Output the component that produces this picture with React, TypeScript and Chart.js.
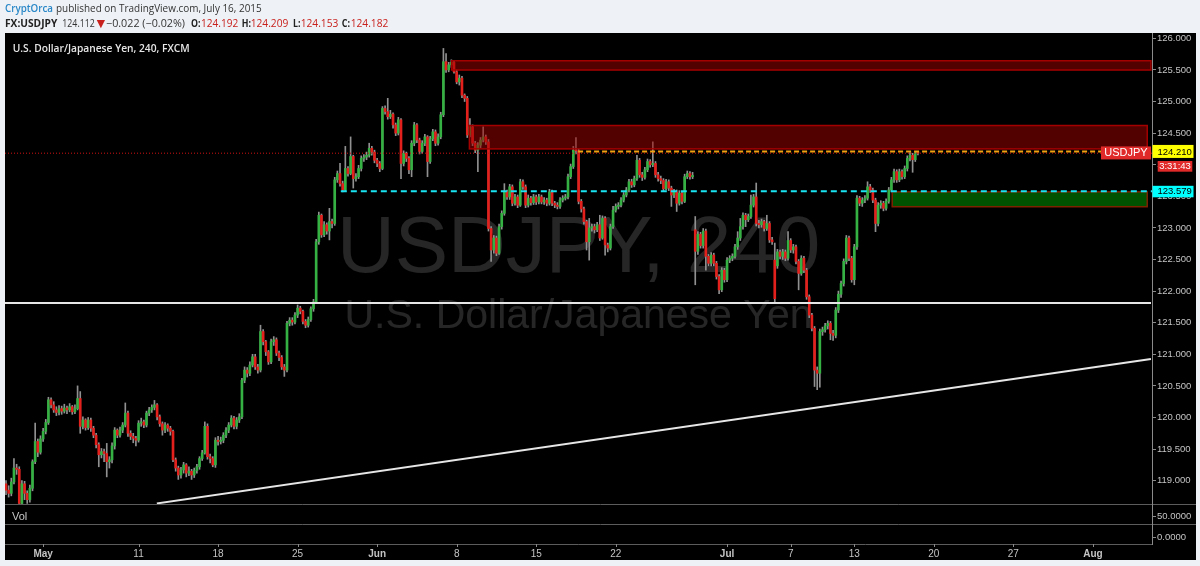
import React, { useEffect, useRef } from 'react';
import { Chart, registerables } from 'chart.js';

Chart.register(...registerables);

// ---------- DATA (4h candles, index 0 = Apr 30 2015) ----------
const closes = [
  118.85, 118.80, 118.98, 119.20, 119.18, 118.64, 118.95, 118.80, 118.70, 118.88,
  119.30, 119.62, 119.45, 119.66, 119.78, 119.92, 120.28, 120.20, 120.12, 120.08,
  120.14, 120.10, 120.15, 120.12, 120.17, 120.09, 120.14, 120.30, 119.86, 119.96,
  119.84, 119.96, 119.83, 119.72, 119.57, 119.41, 119.46, 119.43, 119.30, 119.33,
  119.55, 119.80, 119.72, 119.80, 119.88, 120.07, 119.75, 119.70, 119.67, 119.64,
  119.91, 119.93, 119.88, 120.07, 120.12, 120.16, 120.20, 120.01, 119.90, 119.80,
  119.88, 119.83, 119.78, 119.33, 119.20, 119.09, 119.17, 119.25, 119.12, 119.15,
  119.09, 119.16, 119.22, 119.35, 119.44, 119.86, 119.38, 119.35, 119.25, 119.64,
  119.62, 119.64, 119.72, 119.80, 119.88, 119.99, 119.86, 119.96, 120.01, 120.59,
  120.75, 120.70, 120.83, 120.96, 120.80, 120.75, 121.36, 121.20, 121.04, 120.88,
  121.20, 121.23, 121.02, 120.95, 120.80, 120.75, 121.49, 121.54, 121.51, 121.62,
  121.73, 121.68, 121.52, 121.46, 121.55, 121.72, 121.83, 122.78, 123.20, 122.89,
  123.05, 122.95, 123.10, 123.07, 123.76, 123.86, 123.70, 123.60, 123.94, 123.86,
  124.13, 123.78, 123.81, 123.94, 124.10, 124.12, 124.15, 124.26, 124.20, 124.07,
  124.02, 123.94, 124.89, 124.84, 124.76, 124.80, 124.63, 124.50, 124.71, 124.02,
  124.18, 124.10, 123.92, 124.34, 124.63, 124.39, 124.21, 124.34, 124.44, 124.05,
  124.41, 124.52, 124.34, 124.44, 124.79, 125.63, 125.50, 125.58, 125.62, 125.47,
  125.31, 125.37, 125.10, 125.05, 124.47, 124.60, 124.34, 124.23, 124.31, 124.39,
  124.44, 124.36, 122.99, 122.65, 122.84, 122.60, 123.02, 123.23, 123.57, 123.49,
  123.65, 123.39, 123.49, 123.36, 123.73, 123.65, 123.36, 123.47, 123.40, 123.49,
  123.41, 123.49, 123.41, 123.44, 123.39, 123.57, 123.39, 123.36, 123.34, 123.44,
  123.47, 123.49, 123.81, 123.97, 124.23, 124.22, 123.42, 123.30, 123.10, 122.78,
  123.00, 123.02, 122.97, 123.05, 122.84, 123.15, 122.73, 122.68, 123.02, 123.28,
  123.34, 123.36, 123.44, 123.52, 123.60, 123.73, 123.68, 123.78, 124.07, 123.84,
  123.80, 123.92, 124.05, 124.00, 124.02, 123.84, 123.78, 123.75, 123.62, 123.73,
  123.63, 123.52, 123.57, 123.39, 123.55, 123.42, 123.81, 123.86, 123.81, 123.83,
  122.63, 122.90, 122.72, 122.95, 122.55, 122.44, 122.57, 122.44, 122.23, 122.02,
  122.33, 122.18, 122.49, 122.52, 122.55, 122.70, 122.84, 123.02, 123.20, 123.13,
  123.18, 123.36, 123.49, 123.07, 123.05, 123.10, 122.99, 123.07, 122.81, 122.78,
  121.88, 122.62, 122.55, 122.62, 122.52, 122.80, 122.65, 122.70, 122.47, 122.28,
  122.52, 122.33, 121.91, 121.62, 121.41, 120.75, 120.70, 121.36, 121.39, 121.45,
  121.49, 121.33, 121.30, 121.70, 121.95, 122.12, 122.47, 122.84, 122.52, 122.18,
  122.70, 123.47, 123.39, 123.44, 123.47, 123.65, 123.60, 123.44, 123.07, 123.36,
  123.39, 123.31, 123.42, 123.60, 123.76, 123.89, 123.76, 123.89, 123.81, 123.94,
  124.10, 124.15, 124.08, 124.19, 124.182,
];

const highs = [
  119.00, 118.92, 119.04, 119.35, 119.26, 119.22, 119.00, 118.99, 118.84, 118.93,
  119.33, 119.91, 119.66, 119.71, 119.83, 119.97, 120.32, 120.31, 120.25, 120.17,
  120.19, 120.18, 120.21, 120.18, 120.22, 120.19, 120.20, 120.50, 120.41, 120.01,
  119.98, 120.00, 119.99, 119.86, 119.75, 119.60, 119.51, 119.50, 119.59, 119.38,
  119.60, 119.84, 119.82, 119.85, 119.92, 120.23, 120.10, 119.79, 119.75, 119.70,
  119.95, 119.99, 119.96, 120.10, 120.16, 120.20, 120.27, 120.22, 120.04, 119.93,
  119.92, 119.90, 119.86, 119.80, 119.36, 119.23, 119.21, 119.29, 119.27, 119.22,
  119.18, 119.20, 119.26, 119.38, 119.48, 119.93, 119.90, 119.42, 119.38, 119.68,
  119.70, 119.69, 119.76, 119.84, 119.92, 120.03, 120.02, 120.00, 120.06, 120.62,
  120.80, 120.79, 120.88, 121.00, 121.00, 120.84, 121.46, 121.39, 121.22, 121.06,
  121.24, 121.28, 121.26, 121.05, 120.98, 120.84, 121.52, 121.58, 121.58, 121.66,
  121.78, 121.76, 121.70, 121.55, 121.59, 121.75, 121.87, 122.82, 123.25, 123.22,
  123.10, 123.08, 123.31, 123.14, 123.80, 123.90, 124.02, 123.74, 124.29, 123.97,
  124.44, 124.15, 123.86, 123.99, 124.14, 124.16, 124.20, 124.34, 124.29, 124.23,
  124.10, 124.05, 124.92, 124.93, 125.05, 124.86, 124.82, 124.66, 124.75, 124.73,
  124.22, 124.20, 124.13, 124.38, 124.67, 124.65, 124.42, 124.38, 124.48, 124.46,
  124.45, 124.56, 124.55, 124.49, 124.83, 125.84, 125.76, 125.62, 125.66, 125.64,
  125.50, 125.42, 125.40, 125.12, 125.08, 124.73, 124.63, 124.37, 124.35, 124.43,
  124.60, 124.47, 124.40, 123.02, 122.88, 122.87, 123.06, 123.27, 123.70, 123.60,
  123.69, 123.68, 123.53, 123.52, 123.77, 123.76, 123.68, 123.52, 123.50, 123.53,
  123.52, 123.53, 123.52, 123.48, 123.47, 123.61, 123.60, 123.42, 123.40, 123.48,
  123.51, 123.53, 123.85, 124.01, 124.29, 124.43, 124.25, 123.45, 123.33, 123.12,
  123.15, 123.06, 123.06, 123.09, 123.20, 123.19, 123.18, 122.76, 123.06, 123.34,
  123.38, 123.40, 123.48, 123.56, 123.64, 123.77, 123.77, 123.82, 124.15, 124.10,
  123.88, 123.96, 124.09, 124.08, 124.36, 124.05, 123.88, 123.82, 123.78, 123.77,
  123.76, 123.66, 123.61, 123.60, 123.59, 123.58, 123.85, 123.90, 123.89, 123.88,
  123.18, 122.94, 122.93, 122.99, 122.98, 122.58, 122.61, 122.60, 122.47, 122.26,
  122.37, 122.36, 122.53, 122.56, 122.59, 122.74, 122.94, 123.15, 123.24, 123.23,
  123.22, 123.52, 123.53, 123.71, 123.12, 123.14, 123.12, 123.20, 123.10, 122.85,
  122.76, 122.66, 122.65, 122.66, 122.65, 122.94, 122.83, 122.74, 122.73, 122.50,
  122.56, 122.55, 122.36, 121.94, 121.65, 121.44, 120.80, 121.40, 121.43, 121.49,
  121.53, 121.52, 121.38, 121.74, 122.00, 122.16, 122.51, 122.88, 122.87, 122.55,
  122.74, 123.51, 123.50, 123.48, 123.51, 123.73, 123.69, 123.63, 123.47, 123.40,
  123.43, 123.42, 123.46, 123.64, 123.80, 123.93, 123.92, 123.93, 123.92, 123.98,
  124.14, 124.19, 124.18, 124.20, 124.209,
];

const lows = [
  118.78, 118.74, 118.76, 118.95, 119.10, 118.60, 118.62, 118.70, 118.64, 118.66,
  118.84, 119.27, 119.38, 119.42, 119.62, 119.74, 119.89, 120.15, 120.08, 120.03,
  120.04, 120.05, 120.07, 120.06, 120.09, 120.05, 120.06, 120.12, 119.75, 119.82,
  119.80, 119.81, 119.78, 119.68, 119.52, 119.22, 119.36, 119.30, 119.06, 119.20,
  119.28, 119.50, 119.68, 119.69, 119.76, 119.85, 119.70, 119.65, 119.60, 119.55,
  119.61, 119.86, 119.84, 119.85, 120.03, 120.08, 120.12, 119.96, 119.86, 119.72,
  119.76, 119.78, 119.72, 119.30, 119.15, 119.02, 119.04, 119.12, 119.06, 119.08,
  119.02, 119.05, 119.12, 119.18, 119.32, 119.42, 119.34, 119.28, 119.22, 119.21,
  119.56, 119.58, 119.60, 119.68, 119.76, 119.85, 119.82, 119.82, 119.92, 119.98,
  120.55, 120.64, 120.66, 120.80, 120.76, 120.70, 120.72, 121.15, 120.98, 120.84,
  120.85, 121.14, 120.98, 120.90, 120.76, 120.65, 120.72, 121.45, 121.46, 121.48,
  121.58, 121.64, 121.48, 121.42, 121.43, 121.52, 121.68, 121.80, 122.74, 122.85,
  122.86, 122.90, 122.81, 123.00, 123.04, 123.72, 123.66, 123.57, 123.58, 123.82,
  123.84, 123.63, 123.74, 123.78, 123.90, 124.05, 124.08, 124.12, 124.15, 124.03,
  123.97, 123.89, 123.92, 124.80, 124.72, 124.73, 124.58, 124.46, 124.47, 123.78,
  123.98, 124.05, 123.86, 123.81, 124.30, 124.35, 124.17, 124.18, 124.30, 123.81,
  124.02, 124.38, 124.30, 124.31, 124.41, 124.76, 125.46, 125.47, 125.54, 125.45,
  125.28, 125.26, 125.06, 125.00, 124.43, 124.44, 124.30, 124.19, 123.89, 124.27,
  124.36, 124.32, 122.95, 122.47, 122.60, 122.56, 122.58, 122.98, 123.20, 123.45,
  123.45, 123.35, 123.36, 123.32, 123.34, 123.61, 123.32, 123.33, 123.36, 123.37,
  123.37, 123.38, 123.38, 123.37, 123.35, 123.36, 123.35, 123.32, 123.30, 123.31,
  123.41, 123.44, 123.46, 123.78, 123.94, 124.17, 123.38, 123.25, 123.06, 122.65,
  122.49, 122.95, 122.92, 122.94, 122.80, 122.82, 122.57, 122.62, 122.65, 122.99,
  123.25, 123.30, 123.33, 123.41, 123.49, 123.57, 123.64, 123.65, 123.75, 123.80,
  123.75, 123.77, 123.89, 123.96, 123.97, 123.80, 123.74, 123.70, 123.58, 123.60,
  123.59, 123.34, 123.48, 123.26, 123.36, 123.38, 123.40, 123.78, 123.77, 123.78,
  122.10, 122.58, 122.68, 122.68, 122.33, 122.40, 122.40, 122.40, 122.19, 121.96,
  121.99, 122.14, 122.15, 122.45, 122.48, 122.52, 122.66, 122.80, 122.98, 123.02,
  123.10, 123.15, 123.33, 123.03, 123.00, 123.01, 122.95, 122.96, 122.77, 122.74,
  121.81, 122.36, 122.51, 122.50, 122.48, 122.49, 122.61, 122.60, 122.43, 122.02,
  122.25, 122.29, 121.87, 121.58, 121.37, 120.49, 120.44, 120.48, 121.30, 121.35,
  121.40, 121.23, 121.22, 121.26, 121.66, 121.90, 122.08, 122.43, 122.48, 122.14,
  122.10, 122.66, 123.35, 123.34, 123.40, 123.44, 123.56, 123.40, 122.94, 123.03,
  123.31, 123.27, 123.28, 123.39, 123.57, 123.72, 123.72, 123.73, 123.77, 123.78,
  123.90, 124.06, 123.88, 124.05, 124.153,
];

// opens follow the previous close, except where a gap/explicit open exists
const openOverrides: Record<number, number> = { 0: 118.95, 260: 122.97, 290: 122.49, 291: 122.40, 344: 124.192 };

const dateTickIndex = [14, 50, 80, 110, 140, 170, 200, 230, 272, 296, 320, 350, 380, 410];
const dateTickLabels = ['May', '11', '18', '25', 'Jun', '8', '15', '22', 'Jul', '7', '13', '20', '27', 'Aug'];
const monthLabels = ['May', 'Jun', 'Jul', 'Aug'];
const priceTicks = [119, 119.5, 120, 120.5, 121, 121.5, 122, 122.5, 123, 123.5, 124, 124.5, 125, 125.5, 126];

const lastClose = 124.182;
const resistanceLevel = 124.21;
const supportLevel = 123.579;
const horizontalLevel = 121.81;
const trendFrom = { x: 56.9, y: 118.64 };
const trendTo = { x: 431.9, y: 120.926 };

const zoneFrom = [168.1, 174.8, 334.3];
const zoneTo = [431.9, 430.5, 430.5];
const zoneTop = [125.645, 124.62, 123.57];
const zoneBottom = [125.498, 124.25, 123.335];
const zoneKind = ['sell', 'sell', 'buy'];

const volTicks = ['50.0000', '0.0000'];

// ---------- STYLE ----------
const PAGE_BG = '#eef1f5';
const GREEN = '#35b043';
const RED = '#e3201c';
const WICK = '#909090';
const AXIS_TXT = '#c4c4c4';
const SANS = '"Liberation Sans", Arial, sans-serif';
const HEAD = '"Open Sans", "Liberation Sans", sans-serif';
const zoneStyle: Record<string, { fill: string; stroke: string }> = {
  sell: { fill: 'rgba(160,0,0,0.52)', stroke: '#a40000' },
  buy: { fill: 'rgba(0,150,0,0.55)', stroke: '#7c2200' },
};

function fitText(ctx: CanvasRenderingContext2D, text: string, x: number, y: number, w: number, font: string, color: string) {
  ctx.font = font;
  const m = ctx.measureText(text).width;
  const s = m > 0 && w > 0 ? Math.min(1.2, Math.max(0.8, w / m)) : 1;
  ctx.save();
  ctx.translate(x, y);
  ctx.scale(s, 1);
  ctx.fillStyle = color;
  ctx.textAlign = 'left';
  ctx.textBaseline = 'alphabetic';
  ctx.fillText(text, 0, 0);
  ctx.restore();
}

const overlayPlugin = {
  id: 'tvOverlay',
  beforeDraw(chart: any) {
    const { ctx } = chart;
    ctx.save();
    ctx.fillStyle = PAGE_BG;
    ctx.fillRect(0, 0, chart.width, chart.height);
    ctx.fillStyle = '#000';
    ctx.fillRect(5, 33, 1191, 527);
    ctx.restore();
  },
  beforeDatasetsDraw(chart: any) {
    const { ctx, chartArea: a } = chart;
    const cx = (a.left + a.right) / 2;
    ctx.save();
    ctx.beginPath();
    ctx.rect(a.left, a.top, a.right - a.left, a.bottom - a.top);
    ctx.clip();
    ctx.fillStyle = 'rgba(255,255,255,0.15)';
    ctx.textAlign = 'center';
    ctx.textBaseline = 'alphabetic';
    ctx.font = `80px ${SANS}`;
    ctx.fillText('USDJPY, 240', cx, 272);
    ctx.font = `41px ${SANS}`;
    ctx.fillText('U.S. Dollar/Japanese Yen', cx, 328);
    ctx.restore();
  },
  afterDatasetsDraw(chart: any) {
    const { ctx, chartArea: a } = chart;
    const xs = chart.scales.x;
    const ys = chart.scales.y;
    ctx.save();
    ctx.beginPath();
    ctx.rect(a.left, a.top, a.right - a.left, a.bottom - a.top);
    ctx.clip();

    // zones
    zoneFrom.forEach((f, k) => {
      const st = zoneStyle[zoneKind[k]];
      const x0 = xs.getPixelForValue(f);
      const x1 = xs.getPixelForValue(zoneTo[k]);
      const y0 = ys.getPixelForValue(zoneTop[k]);
      const y1 = ys.getPixelForValue(zoneBottom[k]);
      ctx.fillStyle = st.fill;
      ctx.fillRect(x0, y0, x1 - x0, y1 - y0);
      ctx.strokeStyle = st.stroke;
      ctx.lineWidth = 1.5;
      ctx.strokeRect(x0, y0, x1 - x0, y1 - y0);
    });

    // red dotted current price line
    const yLast = ys.getPixelForValue(lastClose);
    ctx.setLineDash([1, 2]);
    ctx.strokeStyle = '#d01212';
    ctx.lineWidth = 1;
    ctx.beginPath();
    ctx.moveTo(a.left, yLast);
    ctx.lineTo(a.right, yLast);
    ctx.stroke();

    // orange dashed resistance
    const yRes = ys.getPixelForValue(resistanceLevel);
    ctx.setLineDash([5, 3]);
    ctx.strokeStyle = '#f0a010';
    ctx.lineWidth = 2;
    ctx.beginPath();
    ctx.moveTo(xs.getPixelForValue(215.8), yRes);
    ctx.lineTo(a.right, yRes);
    ctx.stroke();

    // cyan dashed support
    const ySup = ys.getPixelForValue(supportLevel);
    ctx.setLineDash([6, 4]);
    ctx.strokeStyle = '#18e4f2';
    ctx.lineWidth = 2;
    ctx.beginPath();
    ctx.moveTo(xs.getPixelForValue(126.3), ySup);
    ctx.lineTo(a.right, ySup);
    ctx.stroke();

    // white horizontal
    ctx.setLineDash([]);
    ctx.strokeStyle = '#e6e6e6';
    ctx.lineWidth = 2;
    const yH = ys.getPixelForValue(horizontalLevel);
    ctx.beginPath();
    ctx.moveTo(a.left, yH);
    ctx.lineTo(a.right - 1, yH);
    ctx.stroke();

    // trend line
    ctx.beginPath();
    ctx.moveTo(xs.getPixelForValue(trendFrom.x), ys.getPixelForValue(trendFrom.y));
    ctx.lineTo(xs.getPixelForValue(trendTo.x), ys.getPixelForValue(trendTo.y));
    ctx.stroke();
    ctx.restore();
  },
  afterDraw(chart: any) {
    const { ctx, chartArea: a } = chart;
    const xs = chart.scales.x;
    const ys = chart.scales.y;
    ctx.save();

    // pane separators
    ctx.strokeStyle = '#5c5c5c';
    ctx.lineWidth = 1;
    ctx.beginPath();
    ctx.moveTo(5, 504.5); ctx.lineTo(1196, 504.5);
    ctx.moveTo(5, 524.5); ctx.lineTo(1196, 524.5);
    ctx.moveTo(5, 544.5); ctx.lineTo(a.right + 0.5, 544.5);
    ctx.stroke();
    ctx.strokeStyle = '#8a8a8a';
    ctx.beginPath();
    ctx.moveTo(a.right + 0.5, 504); ctx.lineTo(a.right + 0.5, 545);
    // vol ticks
    ctx.moveTo(a.right, 516.5); ctx.lineTo(a.right + 4, 516.5);
    ctx.moveTo(a.right, 537.5); ctx.lineTo(a.right + 4, 537.5);
    // date ticks
    dateTickIndex.forEach((v) => {
      const px = Math.round(xs.getPixelForValue(v)) + 0.5;
      ctx.moveTo(px, 544); ctx.lineTo(px, 547);
    });
    ctx.stroke();

    ctx.fillStyle = AXIS_TXT;
    ctx.font = `9.5px ${SANS}`;
    ctx.textAlign = 'left';
    ctx.textBaseline = 'middle';
    ctx.fillText(volTicks[0], 1157, 516.7);
    ctx.fillText(volTicks[1], 1157, 537.7);
    ctx.font = `11px ${SANS}`;
    ctx.fillStyle = '#c8c8c8';
    ctx.fillText('Vol', 12, 517);

    // chart title
    fitText(ctx, 'U.S. Dollar/Japanese Yen, 240, FXCM', 12.7, 51.7, 177, `600 11px ${HEAD}`, '#e6e6e6');

    // right side labels
    const yRes = ys.getPixelForValue(resistanceLevel);
    ctx.fillStyle = '#ffff00';
    ctx.fillRect(1152.5, yRes - 6.5, 41, 13);
    ctx.fillStyle = '#000';
    ctx.font = `9.5px ${SANS}`;
    ctx.textBaseline = 'middle';
    ctx.textAlign = 'left';
    ctx.fillText(resistanceLevel.toFixed(3), 1157.5, yRes + 0.5);

    ctx.fillStyle = '#e02a2a';
    ctx.fillRect(1101, yRes - 5, 50, 13);
    ctx.fillStyle = '#ffffff';
    ctx.font = `11px ${SANS}`;
    ctx.textAlign = 'center';
    ctx.fillText('USDJPY', 1126, yRes + 1.8);

    ctx.fillStyle = '#e02a2a';
    ctx.fillRect(1157.7, 161, 34.6, 10.7);
    ctx.fillStyle = '#ffffff';
    ctx.font = `9.5px ${SANS}`;
    ctx.fillText('3:31:43', 1175, 166.6);

    const ySup = ys.getPixelForValue(supportLevel);
    ctx.fillStyle = '#00ffff';
    ctx.fillRect(1152.5, ySup - 5.5, 41, 11.5);
    ctx.fillStyle = '#000';
    ctx.textAlign = 'left';
    ctx.fillText(supportLevel.toFixed(3), 1157.5, ySup + 0.3);

    // header
    fitText(ctx, 'CryptOrca', 5, 12, 48, `600 11.5px ${HEAD}`, '#2a88c8');
    fitText(ctx, 'published on TradingView.com, July 16, 2015', 56, 12, 205.7, `11.5px ${HEAD}`, '#333333');
    const r2 = 27.3;
    fitText(ctx, 'FX:USDJPY', 5, r2, 52.3, `bold 11px ${HEAD}`, '#222222');
    fitText(ctx, '124.112', 62.3, r2, 31.7, `11px ${HEAD}`, '#333333');
    fitText(ctx, '▼', 96.7, r2, 8.3, `11px "DejaVu Sans", sans-serif`, '#c8201c');
    fitText(ctx, '−0.022 (−0.02%)', 106, r2, 79, `11px ${HEAD}`, '#333333');
    fitText(ctx, 'O:', 191, r2, 9, `bold 11px ${HEAD}`, '#222222');
    fitText(ctx, '124.192', 201, r2, 37.3, `11px ${HEAD}`, '#c8201c');
    fitText(ctx, 'H:', 241.7, r2, 8.3, `bold 11px ${HEAD}`, '#222222');
    fitText(ctx, '124.209', 250.7, r2, 37.6, `11px ${HEAD}`, '#c8201c');
    fitText(ctx, 'L:', 293, r2, 7, `bold 11px ${HEAD}`, '#222222');
    fitText(ctx, '124.153', 300.7, r2, 37.6, `11px ${HEAD}`, '#c8201c');
    fitText(ctx, 'C:', 341.7, r2, 8.3, `bold 11px ${HEAD}`, '#222222');
    fitText(ctx, '124.182', 350.7, r2, 37.6, `11px ${HEAD}`, '#c8201c');

    ctx.restore();
  },
};

export default function App() {
  const ref = useRef<HTMLCanvasElement>(null);

  useEffect(() => {
    const canvas = ref.current;
    if (!canvas) return;
    const opens = closes.map((c, i) => (openOverrides[i] !== undefined ? openOverrides[i] : i > 0 ? closes[i - 1] : c));
    const bodyData = closes.map((c, i) => ({ x: i, y: [opens[i], c] }));
    const wickData = closes.map((_, i) => ({ x: i, y: [lows[i], highs[i]] }));
    const bodyColors = closes.map((c, i) => (c >= opens[i] ? GREEN : RED));

    const chart = new Chart(canvas, {
      type: 'bar',
      data: {
        datasets: [
          {
            label: 'body',
            data: bodyData as any,
            backgroundColor: bodyColors,
            borderWidth: 0,
            barThickness: 2,
            minBarLength: 1,
            grouped: false,
            order: 0,
          } as any,
          {
            label: 'wick',
            data: wickData as any,
            backgroundColor: WICK,
            borderWidth: 0,
            barThickness: 1,
            grouped: false,
            order: 1,
          } as any,
        ],
      },
      options: {
        responsive: false,
        maintainAspectRatio: false,
        animation: false,
        devicePixelRatio: 1,
        events: [],
        layout: { padding: { left: 5, top: 33, right: 4, bottom: 6 } },
        plugins: { legend: { display: false }, tooltip: { enabled: false } },
        scales: {
          x: {
            type: 'linear',
            min: -0.38,
            max: 432.3,
            offset: false,
            grid: { display: false, drawTicks: false },
            border: { display: false },
            afterBuildTicks: (s: any) => {
              s.ticks = dateTickIndex.map((v) => ({ value: v }));
            },
            afterFit: (s: any) => {
              s.height = 56;
              s.paddingLeft = 0;
              s.paddingRight = 0;
            },
            ticks: {
              autoSkip: false,
              maxRotation: 0,
              minRotation: 0,
              padding: 44,
              color: AXIS_TXT,
              font: (c: any) => {
                const lbl = c.tick ? dateTickLabels[dateTickIndex.indexOf(c.tick.value)] : '';
                return { family: SANS, size: 10, weight: monthLabels.includes(lbl) ? 'bold' : 'normal' } as any;
              },
              callback: (v: any) => dateTickLabels[dateTickIndex.indexOf(Number(v))] ?? '',
            },
          } as any,
          y: {
            type: 'linear',
            position: 'right',
            min: 118.631,
            max: 126.084,
            afterBuildTicks: (s: any) => {
              s.ticks = priceTicks.map((v) => ({ value: v }));
            },
            afterFit: (s: any) => {
              s.width = 44;
              s.paddingTop = 0;
              s.paddingBottom = 0;
            },
            grid: { drawOnChartArea: false, drawTicks: true, tickLength: 4, color: '#8a8a8a' },
            border: { display: true, color: '#8a8a8a' },
            ticks: {
              padding: 1,
              color: AXIS_TXT,
              font: { family: SANS, size: 9.5 },
              callback: (v: any) => Number(v).toFixed(3),
            },
          } as any,
        },
      },
      plugins: [overlayPlugin as any],
    });
    return () => chart.destroy();
  }, []);

  return (
    <div style={{ position: 'fixed', left: 0, top: 0, width: 1200, height: 566 }}>
      <canvas ref={ref} width={1200} height={566} style={{ display: 'block', width: 1200, height: 566 }} />
    </div>
  );
}
